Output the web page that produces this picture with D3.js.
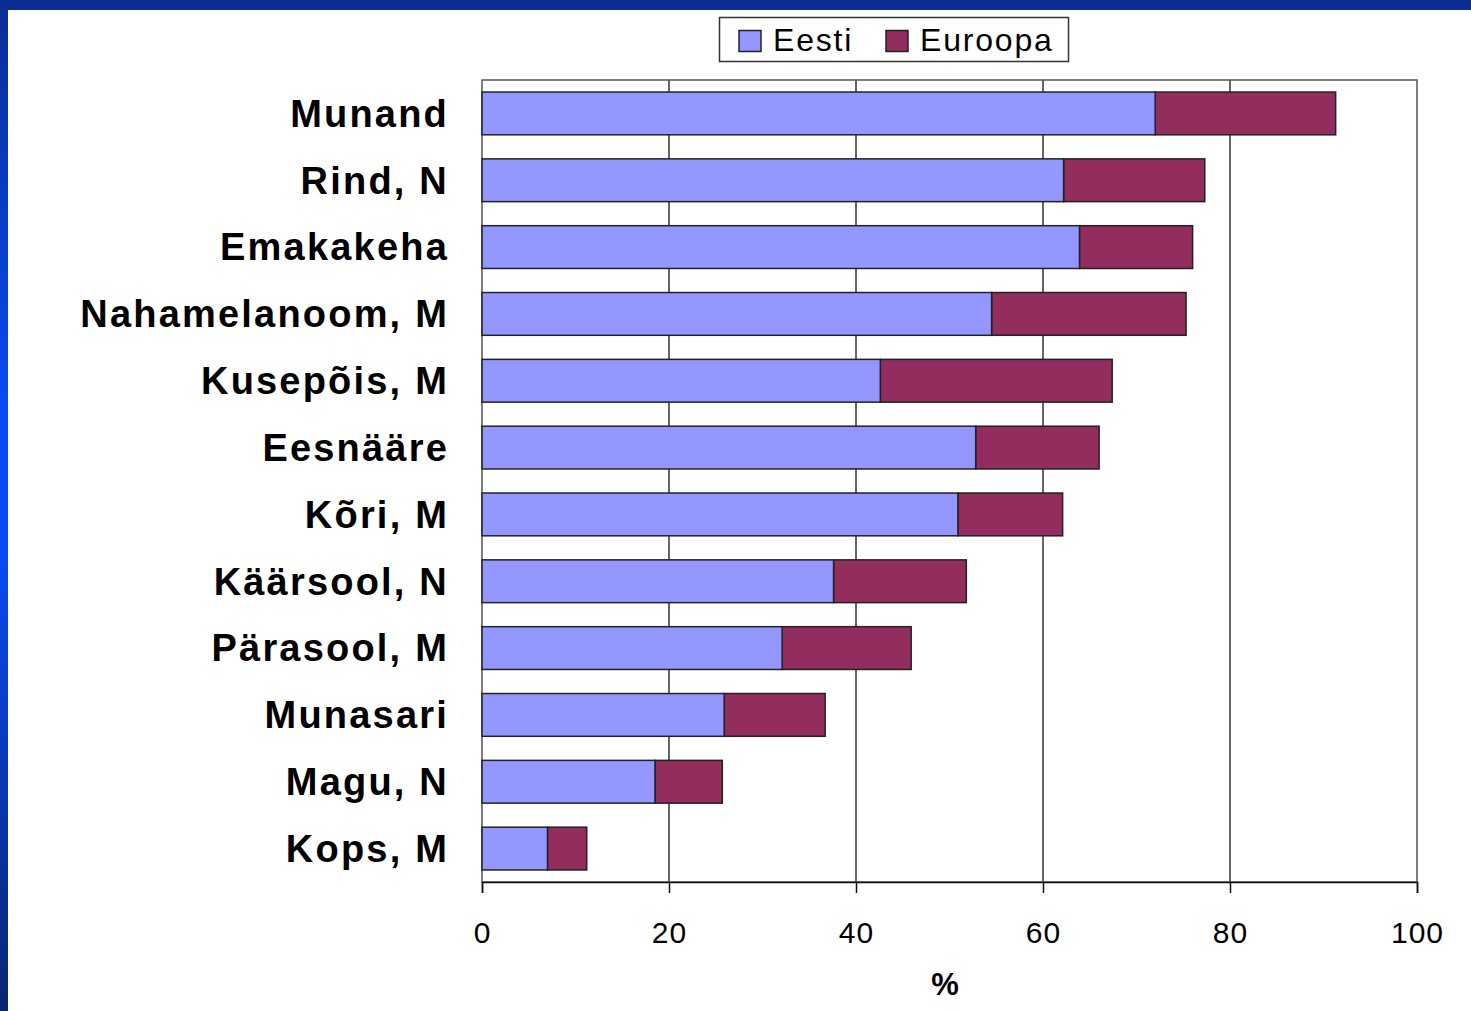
<!DOCTYPE html>
<html>
<head>
<meta charset="utf-8">
<script src="https://cdn.jsdelivr.net/npm/d3@7"></script>
<style>
  html, body { margin: 0; padding: 0; background: #fff; }
  svg { display: block; }
</style>
</head>
<body>
<svg id="chart" width="1471" height="1011"></svg>
<script>
const categories = ["Munand", "Rind, N", "Emakakeha", "Nahamelanoom, M", "Kusepõis, M", "Eesnääre", "Kõri, M", "Käärsool, N", "Pärasool, M", "Munasari", "Magu, N", "Kops, M"];
const eesti =   [72.0, 62.2, 63.9, 54.5, 42.6, 52.8, 50.9, 37.6, 32.1, 25.9, 18.5, 7.0];
const euroopa = [91.3, 77.3, 76.0, 75.3, 67.4, 66.0, 62.1, 51.8, 45.9, 36.7, 25.7, 11.2];
const xTicks = [0, 20, 40, 60, 80, 100];
const seriesNames = ["Eesti", "Euroopa"];
const colors = { Eesti: "#9497ff", Euroopa: "#922d5e" };

const svg = d3.select("#chart");
const W = 1471, H = 1011;

// background frame
const defs = svg.append("defs");
const grad = defs.append("linearGradient").attr("id", "leftGrad")
  .attr("x1", 0).attr("y1", 0).attr("x2", 0).attr("y2", 1);
grad.append("stop").attr("offset", "0%").attr("stop-color", "#0b2e92");
grad.append("stop").attr("offset", "40%").attr("stop-color", "#0b4af2");
grad.append("stop").attr("offset", "55%").attr("stop-color", "#0b4af2");
grad.append("stop").attr("offset", "100%").attr("stop-color", "#0a2672");

svg.append("rect").attr("x", 0).attr("y", 0).attr("width", W).attr("height", H).attr("fill", "#fff");
svg.append("rect").attr("x", 0).attr("y", 0).attr("width", W).attr("height", 10).attr("fill", "#0b2e92");
svg.append("rect").attr("x", 0).attr("y", 0).attr("width", 8).attr("height", H).attr("fill", "url(#leftGrad)");

const plot = { left: 482, right: 1417, top: 80, bottom: 882 };

const x = d3.scaleLinear().domain([0, 100]).range([plot.left, plot.right]);
const y = d3.scaleBand().domain(categories).range([plot.top, plot.bottom])
  .paddingInner(0.36).paddingOuter(0.18);

// gridlines
svg.append("g").selectAll("line").data(xTicks.filter(t => t > 0 && t < 100)).join("line")
  .attr("x1", d => x(d)).attr("x2", d => x(d))
  .attr("y1", plot.top).attr("y2", plot.bottom)
  .attr("stroke", "#333").attr("stroke-width", 1.5);

// plot border
svg.append("rect").attr("x", plot.left).attr("y", plot.top)
  .attr("width", plot.right - plot.left).attr("height", plot.bottom - plot.top)
  .attr("fill", "none").attr("stroke", "#555").attr("stroke-width", 1.5);

// bars
const rows = categories.map((c, i) => ({ c, e: eesti[i], u: euroopa[i] }));
svg.append("g").selectAll("rect").data(rows).join("rect")
  .attr("x", d => x(d.e)).attr("y", d => y(d.c))
  .attr("width", d => x(d.u) - x(d.e)).attr("height", y.bandwidth())
  .attr("fill", colors.Euroopa).attr("stroke", "#222").attr("stroke-width", 1.5);
svg.append("g").selectAll("rect").data(rows).join("rect")
  .attr("x", x(0)).attr("y", d => y(d.c))
  .attr("width", d => x(d.e) - x(0)).attr("height", y.bandwidth())
  .attr("fill", colors.Eesti).attr("stroke", "#222").attr("stroke-width", 1.5);

// x axis
const xAxis = d3.axisBottom(x).tickValues(xTicks).tickSize(11).tickPadding(29).tickFormat(d3.format("d"));
const gx = svg.append("g").attr("transform", `translate(0,${plot.bottom})`).call(xAxis);
gx.select(".domain").attr("stroke", "#111").attr("stroke-width", 1.5);
gx.selectAll(".tick line").attr("stroke", "#111").attr("stroke-width", 1.5);
gx.selectAll(".tick text").attr("fill", "#000")
  .style("font-family", "'Liberation Sans', Arial, sans-serif").style("font-size", "30px")
  .style("letter-spacing", "1px");

// y axis labels
const yAxis = d3.axisLeft(y).tickSize(0).tickPadding(33);
const gy = svg.append("g").attr("transform", `translate(${plot.left},0)`).call(yAxis);
gy.select(".domain").remove();
gy.selectAll(".tick text").attr("fill", "#000").attr("dy", "0.35em")
  .style("font-family", "'Liberation Sans', Arial, sans-serif").style("font-size", "38px")
  .style("font-weight", "bold").style("letter-spacing", "2.2px");

// x axis title
svg.append("text").attr("x", 945).attr("y", 995).attr("text-anchor", "middle")
  .style("font-family", "'Liberation Sans', Arial, sans-serif").style("font-size", "31px")
  .style("font-weight", "bold").text("%");

// legend
const lg = svg.append("g");
lg.append("rect").attr("x", 719.5).attr("y", 17.5).attr("width", 349).attr("height", 44)
  .attr("fill", "#fff").attr("stroke", "#333").attr("stroke-width", 1.5);
const legendX = [739, 886];
seriesNames.forEach((s, i) => {
  lg.append("rect").attr("x", legendX[i]).attr("y", 30.5).attr("width", 22).attr("height", 21)
    .attr("fill", colors[s]).attr("stroke", "#222").attr("stroke-width", 1.5);
  lg.append("text").attr("x", legendX[i] + 34).attr("y", 51)
    .style("font-family", "'Liberation Sans', Arial, sans-serif").style("font-size", "32px")
    .style("letter-spacing", "1.8px").attr("fill", "#000").text(s);
});
</script>
</body>
</html>
